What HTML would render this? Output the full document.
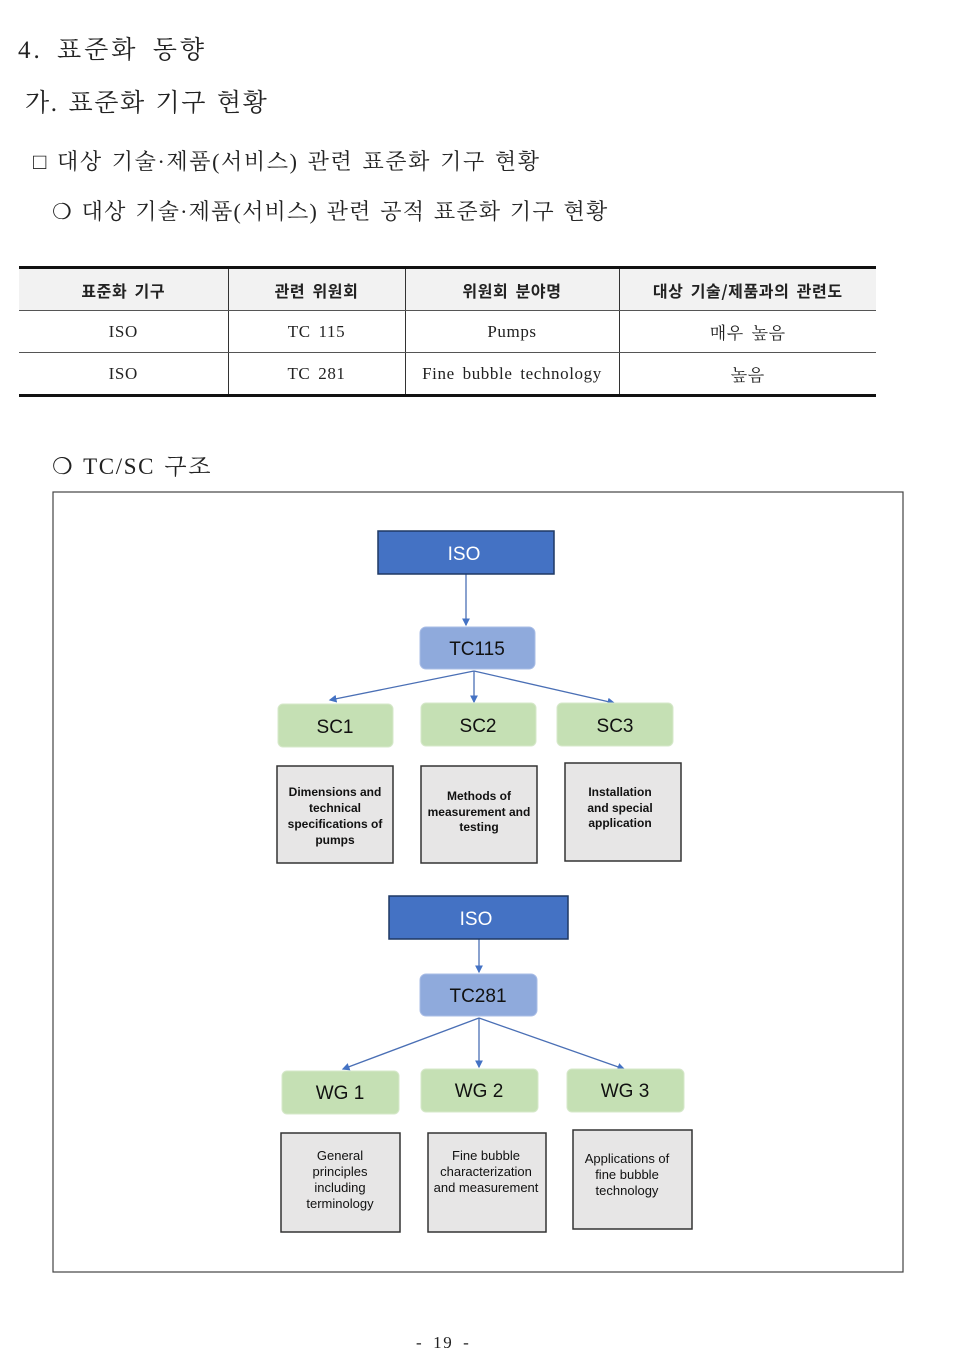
<!DOCTYPE html>
<html><head><meta charset="utf-8"><style>
body{margin:0;background:#fff;width:958px;height:1356px;position:relative;font-family:"Liberation Serif","Noto Serif CJK SC",serif;color:#222}
.t{position:absolute;white-space:nowrap;letter-spacing:1.6px;word-spacing:2px}
table{position:absolute;left:19px;top:266px;width:857px;border-collapse:collapse;font-size:17px;letter-spacing:0.6px;word-spacing:3px}
td{height:41px;text-align:center;border-left:1px solid #333;border-bottom:1px solid #555;padding:0}
td:first-child{border-left:none}
tr.h td{background:#f2f2f2;font-weight:bold;font-family:"Noto Sans CJK KR",sans-serif;font-size:16px}
</style></head><body>
<div class="t" style="left:18px;top:30px;font-size:25px;letter-spacing:3px;word-spacing:5px">4. 표준화 동향</div>
<div class="t" style="left:25px;top:83px;font-size:25px">가. 표준화 기구 현황</div>
<div class="t" style="left:33px;top:145px;font-size:22px">□ 대상 기술·제품(서비스) 관련 표준화 기구 현황</div>
<div class="t" style="left:52px;top:195px;font-size:22px;letter-spacing:1.2px">❍ 대상 기술·제품(서비스) 관련 공적 표준화 기구 현황</div>
<table style="border-top:3px solid #111;border-bottom:3px solid #111">
<colgroup><col style="width:209px"><col style="width:177px"><col style="width:214px"><col></colgroup>
<tr class="h"><td>표준화 기구</td><td>관련 위원회</td><td>위원회 분야명</td><td>대상 기술/제품과의 관련도</td></tr>
<tr><td>ISO</td><td>TC 115</td><td>Pumps</td><td>매우 높음</td></tr>
<tr><td>ISO</td><td>TC 281</td><td>Fine bubble technology</td><td>높음</td></tr>
</table>
<div class="t" style="left:52px;top:448px;font-size:23px">❍ TC/SC 구조</div>
<svg style="position:absolute;left:0;top:0" width="958" height="1356" font-family="Liberation Sans, sans-serif">
<defs><marker id="a" markerWidth="6" markerHeight="6" refX="5" refY="3" orient="auto"><path d="M0,0L6,3L0,6z" fill="#4472c4"/></marker></defs>
<rect x="53" y="492" width="850" height="780" fill="none" stroke="#444" stroke-width="1.2"/>
<g stroke="#4a6fb5" stroke-width="1.3" marker-end="url(#a)">
<line x1="466" y1="574" x2="466" y2="625"/>
<line x1="474" y1="671" x2="330" y2="700"/><line x1="474" y1="671" x2="474" y2="702"/><line x1="474" y1="671" x2="614" y2="703"/>
<line x1="479" y1="939" x2="479" y2="972"/>
<line x1="479" y1="1018" x2="343" y2="1069"/><line x1="479" y1="1018" x2="479" y2="1067"/><line x1="479" y1="1018" x2="624" y2="1069"/>
</g>
<g fill="#4472c4" stroke="#1f3864" stroke-width="1.5"><rect x="378" y="531" width="176" height="43"/><rect x="389" y="896" width="179" height="43"/></g>
<g fill="#fff" font-size="19" text-anchor="middle"><text x="464" y="560">ISO</text><text x="476" y="925">ISO</text></g>
<g fill="#8faadc" stroke="#a9bde6"><rect x="420" y="627" width="115" height="42" rx="6"/><rect x="420" y="974" width="117" height="42" rx="6"/></g>
<g font-size="19" text-anchor="middle" fill="#111"><text x="477" y="655">TC115</text><text x="478" y="1002">TC281</text></g>
<g fill="#c5e0b4" stroke="#d6e8ca"><rect x="278" y="704" width="115" height="43" rx="5"/><rect x="421" y="703" width="115" height="43" rx="5"/><rect x="557" y="703" width="116" height="43" rx="5"/>
<rect x="282" y="1071" width="117" height="43" rx="5"/><rect x="421" y="1069" width="117" height="43" rx="5"/><rect x="567" y="1069" width="117" height="43" rx="5"/></g>
<g font-size="19" text-anchor="middle" fill="#111"><text x="335" y="733">SC1</text><text x="478" y="732">SC2</text><text x="615" y="732">SC3</text>
<text x="340" y="1099">WG 1</text><text x="479" y="1097">WG 2</text><text x="625" y="1097">WG 3</text></g>
<g fill="#e7e6e6" stroke="#333" stroke-width="1.5"><rect x="277" y="766" width="116" height="97"/><rect x="421" y="766" width="116" height="97"/><rect x="565" y="763" width="116" height="98"/>
<rect x="281" y="1133" width="119" height="99"/><rect x="428" y="1133" width="118" height="99"/><rect x="573" y="1130" width="119" height="99"/></g>
<g font-size="12" text-anchor="middle" fill="#111" font-weight="bold">
<text x="335" y="796">Dimensions and</text><text x="335" y="812">technical</text><text x="335" y="828">specifications of</text><text x="335" y="844">pumps</text>
<text x="479" y="800">Methods of</text><text x="479" y="816">measurement and</text><text x="479" y="831">testing</text>
<text x="620" y="796">Installation</text><text x="620" y="812">and special</text><text x="620" y="827">application</text></g>
<g font-size="13" text-anchor="middle" fill="#111">
<text x="340" y="1160">General</text><text x="340" y="1176">principles</text><text x="340" y="1192">including</text><text x="340" y="1208">terminology</text>
<text x="486" y="1160">Fine bubble</text><text x="486" y="1176">characterization</text><text x="486" y="1192">and measurement</text>
<text x="627" y="1163">Applications of</text><text x="627" y="1179">fine bubble</text><text x="627" y="1195">technology</text></g>
</svg>
<div class="t" style="left:416px;top:1333px;font-size:17px;word-spacing:4px">- 19 -</div>
</body></html>
